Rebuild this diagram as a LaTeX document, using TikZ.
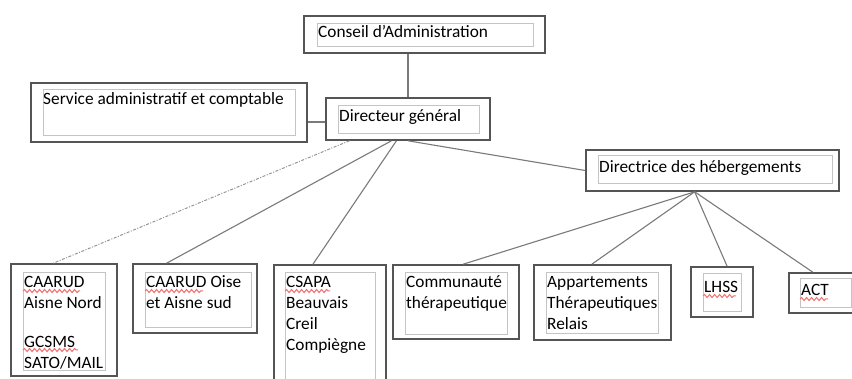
\documentclass[tikz,border=0pt]{standalone}
\usepackage{fontspec}
\setmainfont{Carlito}
\usetikzlibrary{fit,calc,decorations.pathmorphing}
\definecolor{outerc}{HTML}{555555}
\definecolor{innerc}{HTML}{C4C4C4}
\definecolor{linec}{HTML}{7A7A7A}
\definecolor{squigc}{HTML}{F07070}
\tikzset{
  outerbox/.style={draw=outerc, line width=1.6pt, inner sep=0pt, fill=white},
  innerbox/.style={draw=innerc, line width=0.8pt, inner sep=0pt},
  txt/.style={inner sep=0pt, anchor=north west, align=left, text=black,
    font=\fontsize{17.3pt}{21pt}\selectfont},
  conn/.style={draw=linec, line width=1.1pt},
  dotconn/.style={draw=linec!80, line width=1pt, dash pattern=on 3pt off 1.5pt on 1pt off 1.5pt},
  squig/.style={draw=squigc, line width=1pt, decorate,
    decoration={snake, amplitude=1.5pt, segment length=5pt}}
}
\newcommand{\orgbox}[9]{%
  \node[outerbox, fit={(#2,#3)(#4,#5)}] (#1) {};
  \node[innerbox, fit={(#6,#7)(#8,#9)}] (#1in) {};}
\begin{document}
\begin{tikzpicture}[x=1pt,y=-1pt]
\useasboundingbox (0,0) rectangle (852,379);
\clip (0,0) rectangle (852,379);
% boxes
\orgbox{cons}{304}{16}{545}{53}{317}{23}{533}{46}
\orgbox{serv}{31}{83}{307}{142}{43}{89}{295}{135}
\orgbox{dir}{326}{98}{490}{140}{338}{105}{479}{133}
\orgbox{direc}{586}{150}{839}{191}{598}{155}{832}{183}
\orgbox{cn}{11}{264}{117}{376}{23}{272}{105}{370}
\orgbox{co}{133}{264}{257}{333}{145}{272}{251}{327}
\orgbox{cs}{274}{265}{386}{395}{285}{272}{375}{395}
\orgbox{ct}{393}{265}{519}{339}{405}{272}{507}{334}
\orgbox{ap}{534}{265}{671}{340}{546}{272}{658}{333}
\orgbox{lh}{691}{267}{753}{317}{703}{273}{741}{311}
\orgbox{act}{789}{273}{862}{313}{800}{278}{851}{307}
% texts
\node[txt] (tcons) at (318,{37-14.7}) {\strut Conseil d’Administration};
\node[txt] (tserv) at (43,{104-14.7}) {\strut Service administratif et comptable};
\node[txt] (tdir) at (339,{121-14.7}) {\strut Directeur général};
\node[txt] (tdirec) at (599,{172-14.7}) {\strut Directrice des hébergements};
\node[txt] (tcn) at (24,{287-14.7}) {\strut CAARUD\\Aisne Nord\\[18pt]GCSMS\\SATO/MAIL};
\node[txt] (tco) at (146,{287-14.7}) {\strut CAARUD Oise\\et Aisne sud};
\node[txt] (tcs) at (286,{287-14.7}) {\strut CSAPA\\Beauvais\\Creil\\Compiègne};
\node[txt] (tct) at (406,{287-14.7}) {\strut Communauté\\thérapeutique};
\node[txt] (tap) at (547,{287-14.7}) {\strut Appartements\\Thérapeutiques\\Relais};
\node[txt] (tlh) at (704,{292-14.7}) {\strut LHSS};
\node[txt] (tact) at (801,{295-14.7}) {\strut ACT};
% spell-check underlines
\draw[squig] (23,291) -- (80,291);
\draw[squig] (23,350) -- (78,350);
\draw[squig] (145,291) -- (203,291);
\draw[squig] (285,291) -- (330,291);
\draw[squig] (703,296) -- (736,296);
\draw[squig] (800,299) -- (828,299);
% connectors
\coordinate (sj) at (307,122);
\draw[conn] (dir.north |- cons.south) -- (dir.north);
\draw[conn] (serv.east |- sj) -- (dir.west |- sj);
\draw[conn] (dir.south) -- ($(direc.south west)!0.5!(direc.north west)$);
\draw[dotconn] ($(dir.south west)!0.146!(dir.south east)$) -- ($(cn.north west)!0.4!(cn.north east)$);
\draw[conn] ($(dir.south west)!0.40!(dir.south east)$) -- ($(co.north west)!0.274!(co.north east)$);
\draw[conn] ($(dir.south west)!0.43!(dir.south east)$) -- ($(cs.north west)!0.35!(cs.north east)$);
\draw[conn] ($(direc.south west)!0.43!(direc.south east)$) -- ($(ct.north west)!0.556!(ct.north east)$);
\draw[conn] ($(direc.south west)!0.43!(direc.south east)$) -- ($(ap.north west)!0.423!(ap.north east)$);
\draw[conn] ($(direc.south west)!0.43!(direc.south east)$) -- ($(lh.north west)!0.58!(lh.north east)$);
\draw[conn] ($(direc.south west)!0.43!(direc.south east)$) -- ($(act.north west)!0.33!(act.north east)$);
\end{tikzpicture}
\end{document}
